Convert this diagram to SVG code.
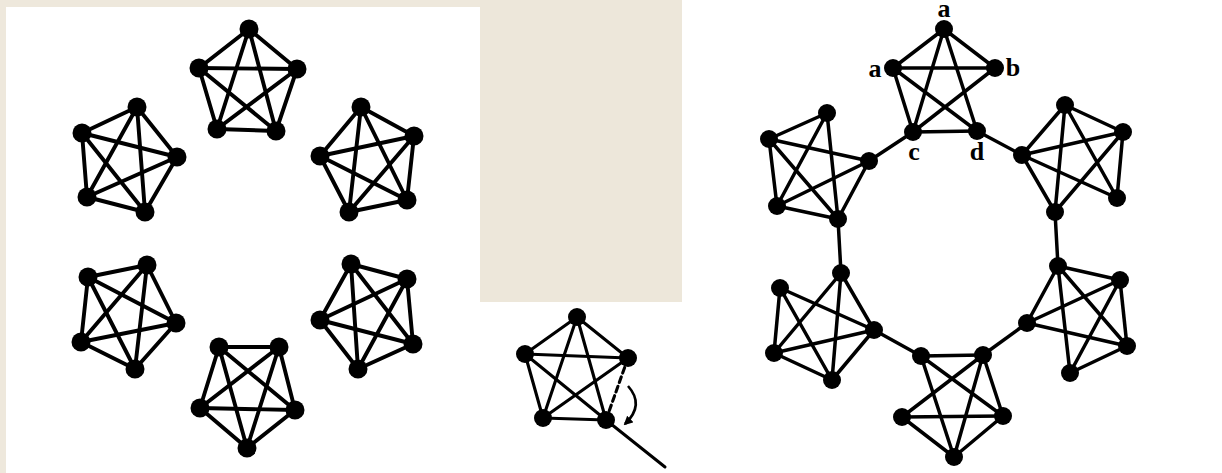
<svg xmlns="http://www.w3.org/2000/svg" width="1222" height="473" viewBox="0 0 1222 473">
<defs>
<style>
.bg{fill:#eee8dc}
.mid{fill:#ede7da}
.wh{fill:#ffffff}
line{stroke:#000;stroke-width:3.9;stroke-linecap:round}
.thin line{stroke-width:3.5}
.mthin line{stroke-width:3.1}
circle{fill:#000}
.lbl{font-family:"Liberation Serif","Times New Roman",serif;font-weight:bold;font-size:26px;fill:#000;text-anchor:middle}
</style>
<marker id="ah" viewBox="0 0 10 10" refX="8" refY="5" markerWidth="3.5" markerHeight="3.5" orient="auto">
<path d="M0,0 L10,5 L0,10 z" fill="#000"/>
</marker>
</defs>
<rect class="bg" x="0" y="0" width="1222" height="473"/>
<rect class="wh" x="6" y="7" width="474" height="466"/>
<rect class="mid" x="480" y="0" width="202" height="302"/>
<rect class="wh" x="480" y="302" width="202" height="171"/>
<rect class="wh" x="682" y="0" width="540" height="473"/>

<!-- Left panel: six K5 -->
<g id="L1">
<line x1="249" y1="29" x2="199" y2="68"/><line x1="249" y1="29" x2="297" y2="69"/><line x1="249" y1="29" x2="217" y2="129"/><line x1="249" y1="29" x2="276" y2="131"/>
<line x1="199" y1="68" x2="297" y2="69"/><line x1="199" y1="68" x2="217" y2="129"/><line x1="199" y1="68" x2="276" y2="131"/>
<line x1="297" y1="69" x2="217" y2="129"/><line x1="297" y1="69" x2="276" y2="131"/><line x1="217" y1="129" x2="276" y2="131"/>
<circle cx="249" cy="29" r="9.5"/><circle cx="199" cy="68" r="9.5"/><circle cx="297" cy="69" r="9.5"/><circle cx="217" cy="129" r="9.5"/><circle cx="276" cy="131" r="9.5"/>
</g>
<g id="L2">
<line x1="137" y1="107" x2="82" y2="133"/><line x1="137" y1="107" x2="177" y2="157"/><line x1="137" y1="107" x2="87" y2="197"/><line x1="137" y1="107" x2="145" y2="212"/>
<line x1="82" y1="133" x2="177" y2="157"/><line x1="82" y1="133" x2="87" y2="197"/><line x1="82" y1="133" x2="145" y2="212"/>
<line x1="177" y1="157" x2="87" y2="197"/><line x1="177" y1="157" x2="145" y2="212"/><line x1="87" y1="197" x2="145" y2="212"/>
<circle cx="137" cy="107" r="9.5"/><circle cx="82" cy="133" r="9.5"/><circle cx="177" cy="157" r="9.5"/><circle cx="87" cy="197" r="9.5"/><circle cx="145" cy="212" r="9.5"/>
</g>
<g id="L3">
<line x1="361" y1="107" x2="414" y2="136"/><line x1="361" y1="107" x2="320" y2="156"/><line x1="361" y1="107" x2="407" y2="200"/><line x1="361" y1="107" x2="349" y2="212"/>
<line x1="414" y1="136" x2="320" y2="156"/><line x1="414" y1="136" x2="407" y2="200"/><line x1="414" y1="136" x2="349" y2="212"/>
<line x1="320" y1="156" x2="407" y2="200"/><line x1="320" y1="156" x2="349" y2="212"/><line x1="407" y1="200" x2="349" y2="212"/>
<circle cx="361" cy="107" r="9.5"/><circle cx="414" cy="136" r="9.5"/><circle cx="320" cy="156" r="9.5"/><circle cx="407" cy="200" r="9.5"/><circle cx="349" cy="212" r="9.5"/>
</g>
<g id="L4">
<line x1="88" y1="277" x2="147" y2="265"/><line x1="88" y1="277" x2="176" y2="323"/><line x1="88" y1="277" x2="81" y2="342"/><line x1="88" y1="277" x2="135" y2="369"/>
<line x1="147" y1="265" x2="176" y2="323"/><line x1="147" y1="265" x2="81" y2="342"/><line x1="147" y1="265" x2="135" y2="369"/>
<line x1="176" y1="323" x2="81" y2="342"/><line x1="176" y1="323" x2="135" y2="369"/><line x1="81" y1="342" x2="135" y2="369"/>
<circle cx="88" cy="277" r="9.5"/><circle cx="147" cy="265" r="9.5"/><circle cx="176" cy="323" r="9.5"/><circle cx="81" cy="342" r="9.5"/><circle cx="135" cy="369" r="9.5"/>
</g>
<g id="L5">
<line x1="351" y1="264" x2="407" y2="279"/><line x1="351" y1="264" x2="320" y2="320"/><line x1="351" y1="264" x2="413" y2="344"/><line x1="351" y1="264" x2="358" y2="369"/>
<line x1="407" y1="279" x2="320" y2="320"/><line x1="407" y1="279" x2="413" y2="344"/><line x1="407" y1="279" x2="358" y2="369"/>
<line x1="320" y1="320" x2="413" y2="344"/><line x1="320" y1="320" x2="358" y2="369"/><line x1="413" y1="344" x2="358" y2="369"/>
<circle cx="351" cy="264" r="9.5"/><circle cx="407" cy="279" r="9.5"/><circle cx="320" cy="320" r="9.5"/><circle cx="413" cy="344" r="9.5"/><circle cx="358" cy="369" r="9.5"/>
</g>
<g id="L6">
<line x1="219" y1="347" x2="279" y2="347"/><line x1="219" y1="347" x2="200" y2="408"/><line x1="219" y1="347" x2="295" y2="410"/><line x1="219" y1="347" x2="247" y2="448"/>
<line x1="279" y1="347" x2="200" y2="408"/><line x1="279" y1="347" x2="295" y2="410"/><line x1="279" y1="347" x2="247" y2="448"/>
<line x1="200" y1="408" x2="295" y2="410"/><line x1="200" y1="408" x2="247" y2="448"/><line x1="295" y1="410" x2="247" y2="448"/>
<circle cx="219" cy="347" r="9.5"/><circle cx="279" cy="347" r="9.5"/><circle cx="200" cy="408" r="9.5"/><circle cx="295" cy="410" r="9.5"/><circle cx="247" cy="448" r="9.5"/>
</g>

<!-- Middle: K5 with one edge removed -->
<g id="M1" class="mthin">
<line x1="577" y1="317" x2="525" y2="354"/><line x1="577" y1="317" x2="628" y2="358"/><line x1="577" y1="317" x2="543" y2="418"/><line x1="577" y1="317" x2="606" y2="420"/>
<line x1="525" y1="354" x2="628" y2="358"/><line x1="525" y1="354" x2="543" y2="418"/><line x1="525" y1="354" x2="606" y2="420"/>
<line x1="628" y1="358" x2="543" y2="418"/><line x1="543" y1="418" x2="606" y2="420"/>
<line x1="628" y1="358" x2="606" y2="420" stroke-dasharray="6,4" stroke-linecap="butt"/>
<circle cx="577" cy="317" r="9"/><circle cx="525" cy="354" r="9"/><circle cx="628" cy="358" r="9"/><circle cx="543" cy="418" r="9"/><circle cx="606" cy="420" r="9"/>
</g>

<!-- Right panel: chain of six modified K5 -->
<g id="R1" class="thin">
<line x1="944" y1="29" x2="893" y2="68"/><line x1="944" y1="29" x2="995" y2="68"/><line x1="944" y1="29" x2="913" y2="132"/><line x1="944" y1="29" x2="977" y2="131"/>
<line x1="893" y1="68" x2="995" y2="68"/><line x1="893" y1="68" x2="913" y2="132"/><line x1="893" y1="68" x2="977" y2="131"/>
<line x1="995" y1="68" x2="913" y2="132"/><line x1="913" y1="132" x2="977" y2="131"/>
<circle cx="944" cy="29" r="9"/><circle cx="893" cy="68" r="9"/><circle cx="995" cy="68" r="9"/><circle cx="913" cy="132" r="9"/><circle cx="977" cy="131" r="9"/>
<text class="lbl" x="944" y="17">a</text>
<text class="lbl" x="875" y="77">a</text>
<text class="lbl" x="1013" y="76">b</text>
<text class="lbl" x="914" y="160">c</text>
<text class="lbl" x="977" y="160">d</text>
</g>
<g id="R2" class="thin">
<line x1="827" y1="113" x2="769" y2="139"/><line x1="827" y1="113" x2="777" y2="206"/><line x1="827" y1="113" x2="838" y2="219"/>
<line x1="769" y1="139" x2="869" y2="161"/><line x1="769" y1="139" x2="777" y2="206"/><line x1="769" y1="139" x2="838" y2="219"/>
<line x1="869" y1="161" x2="777" y2="206"/><line x1="869" y1="161" x2="838" y2="219"/><line x1="777" y1="206" x2="838" y2="219"/>
<circle cx="827" cy="113" r="9"/><circle cx="769" cy="139" r="9"/><circle cx="869" cy="161" r="9"/><circle cx="777" cy="206" r="9"/><circle cx="838" cy="219" r="9"/>
</g>
<g id="R3" class="thin">
<line x1="1065" y1="105" x2="1123" y2="132"/><line x1="1065" y1="105" x2="1022" y2="155"/><line x1="1065" y1="105" x2="1055" y2="212"/><line x1="1065" y1="105" x2="1117" y2="198"/>
<line x1="1123" y1="132" x2="1022" y2="155"/><line x1="1123" y1="132" x2="1055" y2="212"/><line x1="1123" y1="132" x2="1117" y2="198"/>
<line x1="1022" y1="155" x2="1117" y2="198"/><line x1="1022" y1="155" x2="1055" y2="212"/>
<circle cx="1065" cy="105" r="9"/><circle cx="1123" cy="132" r="9"/><circle cx="1022" cy="155" r="9"/><circle cx="1117" cy="198" r="9"/><circle cx="1055" cy="212" r="9"/>
</g>
<g id="R4" class="thin">
<line x1="841" y1="273" x2="874" y2="330"/><line x1="841" y1="273" x2="774" y2="353"/><line x1="841" y1="273" x2="832" y2="380"/>
<line x1="780" y1="288" x2="874" y2="330"/><line x1="780" y1="288" x2="774" y2="353"/><line x1="780" y1="288" x2="832" y2="380"/>
<line x1="874" y1="330" x2="774" y2="353"/><line x1="874" y1="330" x2="832" y2="380"/><line x1="774" y1="353" x2="832" y2="380"/>
<circle cx="841" cy="273" r="9"/><circle cx="780" cy="288" r="9"/><circle cx="874" cy="330" r="9"/><circle cx="774" cy="353" r="9"/><circle cx="832" cy="380" r="9"/>
</g>
<g id="R5" class="thin">
<line x1="1058" y1="266" x2="1120" y2="280"/><line x1="1058" y1="266" x2="1027" y2="323"/><line x1="1058" y1="266" x2="1127" y2="346"/><line x1="1058" y1="266" x2="1070" y2="373"/>
<line x1="1120" y1="280" x2="1027" y2="323"/><line x1="1120" y1="280" x2="1070" y2="373"/><line x1="1120" y1="280" x2="1127" y2="346"/>
<line x1="1027" y1="323" x2="1127" y2="346"/><line x1="1070" y1="373" x2="1127" y2="346"/>
<circle cx="1058" cy="266" r="9"/><circle cx="1120" cy="280" r="9"/><circle cx="1027" cy="323" r="9"/><circle cx="1127" cy="346" r="9"/><circle cx="1070" cy="373" r="9"/>
</g>
<g id="R6" class="thin">
<line x1="921" y1="356" x2="983" y2="355"/><line x1="921" y1="356" x2="1003" y2="416"/><line x1="921" y1="356" x2="954" y2="457"/>
<line x1="983" y1="355" x2="902" y2="417"/><line x1="983" y1="355" x2="954" y2="457"/><line x1="983" y1="355" x2="1003" y2="416"/>
<line x1="902" y1="417" x2="1003" y2="416"/><line x1="902" y1="417" x2="954" y2="457"/><line x1="1003" y1="416" x2="954" y2="457"/>
<circle cx="921" cy="356" r="9"/><circle cx="983" cy="355" r="9"/><circle cx="902" cy="417" r="9"/><circle cx="1003" cy="416" r="9"/><circle cx="954" cy="457" r="9"/>
</g>

<g id="connectors" class="thin">
<line x1="606" y1="420" x2="665" y2="467" style="stroke-width:3"/>
<path d="M628,386 Q645,405 625,424" fill="none" stroke="#000" stroke-width="2.6" marker-end="url(#ah)"/>
<line x1="913" y1="132" x2="869" y2="161"/>
<line x1="977" y1="131" x2="1022" y2="155"/>
<line x1="838" y1="219" x2="841" y2="273"/>
<line x1="1055" y1="212" x2="1058" y2="266"/>
<line x1="874" y1="330" x2="921" y2="356"/>
<line x1="983" y1="355" x2="1027" y2="323"/>
</g>
</svg>
